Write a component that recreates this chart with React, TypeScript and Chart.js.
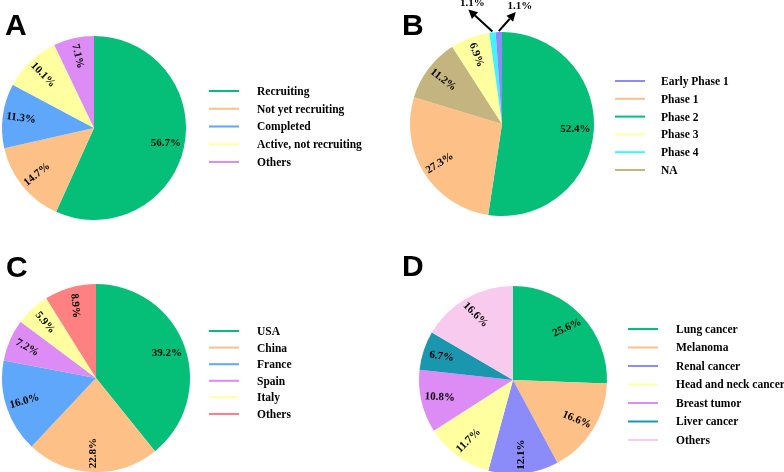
import React, { useEffect, useRef } from "react";
import { Chart, registerables } from "chart.js";
Chart.register(...registerables);

// ---------- Data ----------
// A: trial status (clockwise from top)
const statusLabels = ["Recruiting", "Not yet recruiting", "Completed", "Active, not recruiting", "Others"];
const statusValues = [56.7, 14.7, 11.3, 10.1, 7.1];

// B: phase (pie order, clockwise from top)
const phaseLabels = ["Phase 2", "Phase 1", "NA", "Phase 3", "Phase 4", "Early Phase 1"];
const phaseValues = [52.4, 27.3, 11.2, 6.9, 1.1, 1.1];
const phaseLegendOrder = ["Early Phase 1", "Phase 1", "Phase 2", "Phase 3", "Phase 4", "NA"];

// C: country
const countryLabels = ["USA", "China", "France", "Spain", "Italy", "Others"];
const countryValues = [39.2, 22.8, 16.0, 7.2, 5.9, 8.9];

// D: cancer type
const cancerLabels = ["Lung cancer", "Melanoma", "Renal cancer", "Head and neck cancer", "Breast tumor", "Liver cancer", "Others"];
const cancerValues = [25.6, 16.6, 12.1, 11.7, 10.8, 6.7, 16.6];

// ---------- Styles ----------
const GREEN = "#05BE78";
const ORANGE = "#FDC086";
const BLUE = "#5EA7FB";
const YELLOW = "#FFFFA0";
const PURPLE = "#DD8BF5";
const PERI = "#8B8BFA";
const CYAN = "#3EF5FF";
const KHAKI = "#C4B47F";
const RED = "#FF8080";
const TEAL = "#1A96AF";
const PINK = "#F7CAEE";

const W = 784;
const H = 490;

type PanelSpec = {
  letter: string;
  labels: string[];
  values: number[];
  colors: string[];
  legendOrder: string[];
  // optional label text orientation (degrees); null = radial
  labelAngles: (number | null)[];
  cx: number;
  cy: number;
  r: number;
  letterX: number;
  letterY: number;
  legendLineX: number;
  legendTextX: number;
  legendTop: number;
  legendStep: number;
};

const panels: PanelSpec[] = [
  {
    letter: "A",
    labels: statusLabels,
    values: statusValues,
    colors: [GREEN, ORANGE, BLUE, YELLOW, PURPLE],
    legendOrder: statusLabels,
    labelAngles: [0, null, null, null, null],
    cx: 94, cy: 128, r: 92,
    letterX: 5, letterY: 35,
    legendLineX: 209, legendTextX: 257, legendTop: 92, legendStep: 17.75,
  },
  {
    letter: "B",
    labels: phaseLabels,
    values: phaseValues,
    colors: [GREEN, ORANGE, KHAKI, YELLOW, CYAN, PERI],
    legendOrder: phaseLegendOrder,
    labelAngles: [0, null, null, null, null, null],
    cx: 502, cy: 124, r: 92,
    letterX: 402, letterY: 35,
    legendLineX: 615, legendTextX: 661, legendTop: 82, legendStep: 17.8,
  },
  {
    letter: "C",
    labels: countryLabels,
    values: countryValues,
    colors: [GREEN, ORANGE, BLUE, PURPLE, YELLOW, RED],
    legendOrder: countryLabels,
    labelAngles: [0, -90, -16, 30, 50, 85],
    cx: 96, cy: 378, r: 94,
    letterX: 6, letterY: 277,
    legendLineX: 209, legendTextX: 257, legendTop: 332, legendStep: 16.6,
  },
  {
    letter: "D",
    labels: cancerLabels,
    values: cancerValues,
    colors: [GREEN, ORANGE, PERI, YELLOW, PURPLE, TEAL, PINK],
    legendOrder: cancerLabels,
    labelAngles: [-25, 22, -90, -45, 3, 8, 45],
    cx: 513, cy: 380, r: 94,
    letterX: 402, letterY: 276,
    legendLineX: 628, legendTextX: 676, legendTop: 330, legendStep: 18.5,
  },
];

const SERIF = '"Liberation Serif", "Times New Roman", serif';

function makePlugin(p: PanelSpec) {
  return {
    id: "decor" + p.letter,
    afterDraw(chart: any) {
      const ctx: CanvasRenderingContext2D = chart.ctx;
      ctx.save();
      // panel letter
      ctx.fillStyle = "#000";
      ctx.font = 'bold 30px "Liberation Sans", Arial, sans-serif';
      ctx.textAlign = "left";
      ctx.textBaseline = "alphabetic";
      ctx.fillText(p.letter, p.letterX, p.letterY);

      // slice labels
      const meta = chart.getDatasetMeta(0);
      const small: any[] = [];
      meta.data.forEach((arc: any, i: number) => {
        const { x, y, startAngle, endAngle, outerRadius } = arc.getProps(
          ["x", "y", "startAngle", "endAngle", "outerRadius"],
          true
        );
        const v = p.values[i];
        const text = v.toFixed(1) + "%";
        const mid = (startAngle + endAngle) / 2;
        if (v < 2) {
          small.push({ x, y, mid, outerRadius, text });
          return;
        }
        const d = outerRadius * 0.8;
        const lx = x + Math.cos(mid) * d;
        const ly = y + Math.sin(mid) * d;
        let rot = mid;
        if (Math.cos(mid) < 0) rot += Math.PI;
        const ov = p.labelAngles[i];
        if (ov !== null && ov !== undefined) rot = (ov * Math.PI) / 180;
        ctx.save();
        ctx.translate(lx, ly);
        ctx.rotate(rot);
        ctx.font = "bold 11px " + SERIF;
        ctx.fillStyle = "#000";
        ctx.textAlign = "center";
        ctx.textBaseline = "middle";
        ctx.fillText(text, 0, 0);
        ctx.restore();
      });

      // arrows for tiny slices
      small.forEach((s, k) => {
        const sx = s.x + Math.cos(s.mid) * (s.outerRadius + 1);
        const sy = s.y + Math.sin(s.mid) * (s.outerRadius + 1);
        const tx = sx + (k === 0 ? -24 : 17);
        const ty = sy + (k === 0 ? -22 : -19);
        const ang = Math.atan2(ty - sy, tx - sx);
        const head = 9;
        const half = 4.5;
        const bx = tx - Math.cos(ang) * head;
        const by = ty - Math.sin(ang) * head;
        ctx.strokeStyle = "#000";
        ctx.lineWidth = 2;
        ctx.beginPath();
        ctx.moveTo(sx, sy);
        ctx.lineTo(bx, by);
        ctx.stroke();
        ctx.fillStyle = "#000";
        ctx.beginPath();
        ctx.moveTo(tx, ty);
        ctx.lineTo(bx + Math.cos(ang + Math.PI / 2) * half, by + Math.sin(ang + Math.PI / 2) * half);
        ctx.lineTo(bx - Math.cos(ang + Math.PI / 2) * half, by - Math.sin(ang + Math.PI / 2) * half);
        ctx.closePath();
        ctx.fill();
        ctx.font = "bold 11px " + SERIF;
        ctx.textAlign = "center";
        ctx.textBaseline = "middle";
        ctx.fillText(s.text, tx + 4, ty - 6);
      });

      // legend
      ctx.font = "bold 11.5px " + SERIF;
      ctx.textAlign = "left";
      ctx.textBaseline = "middle";
      p.legendOrder.forEach((name, j) => {
        const idx = p.labels.indexOf(name);
        const yy = p.legendTop + j * p.legendStep;
        ctx.strokeStyle = p.colors[idx];
        ctx.lineWidth = 2;
        ctx.beginPath();
        ctx.moveTo(p.legendLineX, yy - 1);
        ctx.lineTo(p.legendLineX + 30, yy - 1);
        ctx.stroke();
        ctx.fillStyle = "#000";
        ctx.fillText(name, p.legendTextX, yy);
      });
      ctx.restore();
    },
  };
}

function PiePanel({ spec }: { spec: PanelSpec }) {
  const ref = useRef<HTMLCanvasElement>(null);
  useEffect(() => {
    const c = ref.current;
    if (!c) return;
    const chart = new Chart(c, {
      type: "pie",
      data: {
        labels: spec.labels,
        datasets: [{ data: spec.values, backgroundColor: spec.colors, borderWidth: 0 }],
      },
      options: {
        responsive: false,
        animation: false,
        events: [],
        layout: {
          padding: {
            left: spec.cx - spec.r,
            top: spec.cy - spec.r,
            right: W - spec.cx - spec.r,
            bottom: H - spec.cy - spec.r,
          },
        },
        plugins: {
          legend: { display: false },
          tooltip: { enabled: false },
          title: { display: false },
        },
      } as any,
      plugins: [makePlugin(spec)],
    });
    return () => chart.destroy();
  }, [spec]);
  return (
    <canvas
      ref={ref}
      width={W}
      height={H}
      style={{ position: "absolute", left: 0, top: 0, width: W, height: H }}
    />
  );
}

export default function App() {
  return (
    <div
      style={{
        position: "fixed",
        left: 0,
        top: 0,
        width: 784,
        height: 472,
        overflow: "hidden",
        background: "#fff",
      }}
    >
      {panels.map((p) => (
        <PiePanel key={p.letter} spec={p} />
      ))}
    </div>
  );
}
